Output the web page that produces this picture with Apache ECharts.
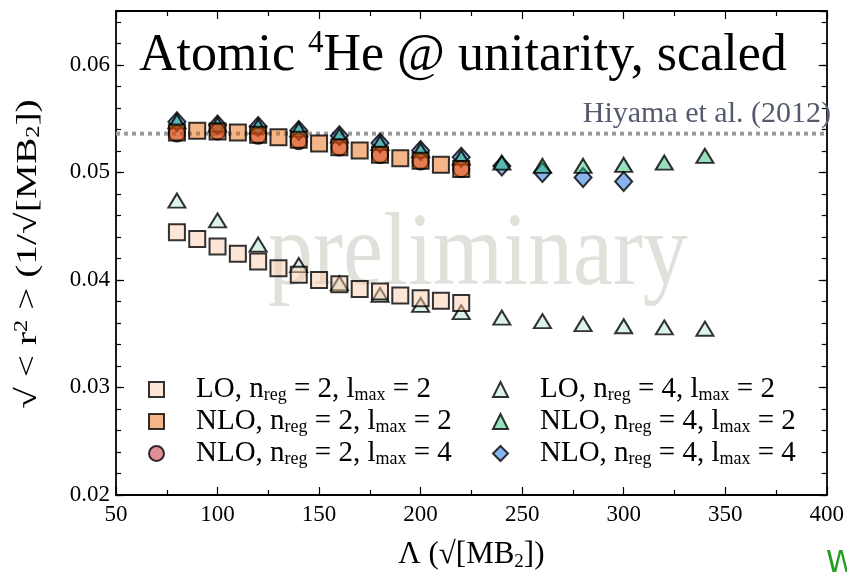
<!DOCTYPE html>
<html>
<head>
<meta charset="utf-8">
<script src="https://cdn.jsdelivr.net/npm/echarts@6/dist/echarts.min.js"></script>
<style>
  html, body { margin: 0; padding: 0; background: #fff; }
  #chart { width: 847px; height: 579px; }
</style>
</head>
<body>
<div id="chart"></div>
<script>
// Cutoff values Λ (√[MB2]) for each calculation
const lambdaNreg2 = [80, 90, 100, 110, 120, 130, 140, 150, 160, 170, 180, 190, 200, 210, 220];
const lambdaNreg2L4 = [80, 100, 120, 140, 160, 180, 200, 220];
const lambdaNreg4 = [80, 100, 120, 140, 160, 180, 200, 220, 240, 260, 280, 300, 320, 340];
const lambdaNreg4L4 = [80, 100, 120, 140, 160, 180, 200, 220, 240, 260, 280, 300];

// Root-mean-square radius √<r²> (1/√[MB2])
const rmsLO_n2_l2 = [0.04444, 0.04381, 0.04310, 0.04242, 0.04170, 0.04109, 0.04047, 0.04000,
                     0.03960, 0.03916, 0.03891, 0.03854, 0.03830, 0.03805, 0.03784];
const rmsNLO_n2_l2 = [0.05370, 0.05386, 0.05380, 0.05370, 0.05349, 0.05326, 0.05302, 0.05268,
                      0.05234, 0.05203, 0.05163, 0.05132, 0.05107, 0.05070, 0.05030];
const rmsNLO_n2_l4 = [0.05360, 0.05380, 0.05340, 0.05290, 0.05230, 0.05160, 0.05100, 0.05030];
const rmsLO_n4_l2 = [0.04737, 0.04553, 0.04328, 0.04137, 0.03969, 0.03860, 0.03767, 0.03700,
                     0.03650, 0.03616, 0.03589, 0.03569, 0.03558, 0.03546];
const rmsNLO_n4_l2 = [0.05474, 0.05444, 0.05428, 0.05397, 0.05341, 0.05273, 0.05205, 0.05137,
                      0.05091, 0.05060, 0.05060, 0.05070, 0.05091, 0.05153];
const rmsNLO_n4_l4 = [0.05470, 0.05440, 0.05426, 0.05389, 0.05340, 0.05272, 0.05203, 0.05141,
                      0.05060, 0.04998, 0.04952, 0.04915];

// Reference value (Hiyama et al. 2012)
const hiyamaValue = 0.0536;
const hiyamaLabel = 'Hiyama et al. (2012)';

// Axis ranges and tick labels
const xTicks = [50, 100, 150, 200, 250, 300, 350, 400];
const yTicks = [0.02, 0.03, 0.04, 0.05, 0.06];

// Legend entries: order, n_reg, l_max
const orders = ['LO', 'NLO', 'NLO', 'LO', 'NLO', 'NLO'];
const nregs = [2, 2, 2, 4, 4, 4];
const lmaxs = [2, 2, 4, 2, 2, 4];
const names = orders.map((o, i) => `${o}, nreg = ${nregs[i]}, lmax = ${lmaxs[i]}`);

const SERIF = '"Liberation Serif", "DejaVu Serif", serif';
const EDGE = '#000';

function pts(xs, ys) { return xs.map((x, i) => [x, ys[i]]); }

function markerSeries(idx, xs, ys, symbol, size, color, z) {
  return {
    name: names[idx], type: 'scatter', data: pts(xs, ys),
    symbol: symbol, symbolSize: size, z: z,
    itemStyle: { color: color, borderColor: EDGE, borderWidth: 2 },
    emphasis: { disabled: true }
  };
}

const seriesList = [
  {
    type: 'line', data: [[xTicks[0], hiyamaValue], [xTicks[xTicks.length - 1], hiyamaValue]],
    symbol: 'none', silent: true, z: 1,
    lineStyle: { color: '#9a9a9a', width: 4, type: [4, 4] }
  },
  markerSeries(5, lambdaNreg4L4, rmsNLO_n4_l4, 'diamond', [17, 19], 'rgba(7,100,217,0.6)', 2),
  markerSeries(4, lambdaNreg4, rmsNLO_n4_l2, 'triangle', [17, 14], 'rgba(42,187,118,0.6)', 3),
  markerSeries(3, lambdaNreg4, rmsLO_n4_l2, 'triangle', [17, 14], 'rgba(182,230,207,0.6)', 3),
  markerSeries(0, lambdaNreg2, rmsLO_n2_l2, 'rect', 16, 'rgba(252,203,170,0.6)', 4),
  markerSeries(2, lambdaNreg2L4, rmsNLO_n2_l4, 'circle', 16, 'rgba(192,18,38,0.6)', 5),
  markerSeries(1, lambdaNreg2, rmsNLO_n2_l2, 'rect', 16, 'rgba(233,103,7,0.6)', 6)
];

const legendRich = {
  g: { width: 27 },
  m: { fontFamily: SERIF, fontSize: 29, lineHeight: 30, color: '#000' },
  s: { fontFamily: SERIF, fontSize: 18, lineHeight: 16, color: '#000', verticalAlign: 'bottom' }
};
function legendFormatter(name) {
  const m = name.match(/^(\w+), nreg = (\d), lmax = (\d)$/);
  return `{g| }{m|${m[1]}, n}{s|reg}{m| = ${m[2]}, l}{s|max}{m| = ${m[3]}}`;
}
function legendBlock(left, list) {
  return {
    orient: 'vertical', left: left, top: 370, itemGap: 2.5,
    itemWidth: 15, itemHeight: 15, selectedMode: false,
    data: list, formatter: legendFormatter,
    textStyle: { rich: legendRich }
  };
}

const tickLine = { color: '#000', width: 1.2 };
const frameLine = { show: true, onZero: false, lineStyle: { color: '#000', width: 1.8 } };
const xBase = { type: 'value', min: xTicks[0], max: xTicks[xTicks.length - 1], interval: 50,
                splitLine: { show: false } };
const yBase = { type: 'value', min: yTicks[0], max: 0.065, splitLine: { show: false } };

const option = {
  animation: false,
  backgroundColor: '#fff',
  grid: { left: 116, right: 11, top: 11, bottom: 84 },
  legend: [
    legendBlock(143, names.slice(0, 3)),
    legendBlock(487, names.slice(3, 6))
  ],
  xAxis: [
    Object.assign({}, xBase, {
      position: 'bottom', axisLine: frameLine,
      axisTick: { inside: true, length: 8, lineStyle: tickLine },
      minorTick: { show: true, splitNumber: 2, length: 5, lineStyle: tickLine },
      axisLabel: { fontFamily: SERIF, fontSize: 23, color: '#000', margin: 8 },
      name: '{t|Λ (√[MB}{sub|2}{t|])}', nameLocation: 'middle', nameGap: 43,
      nameTextStyle: { rich: {
        t: { fontFamily: SERIF, fontSize: 31, color: '#000', lineHeight: 34 },
        sub: { fontFamily: SERIF, fontSize: 19, color: '#000', lineHeight: 19, verticalAlign: 'bottom' }
      } }
    }),
    Object.assign({}, xBase, {
      position: 'top', axisLine: frameLine,
      axisTick: { inside: true, length: 8, lineStyle: tickLine },
      minorTick: { show: true, splitNumber: 2, length: 5, lineStyle: tickLine },
      axisLabel: { show: false }
    })
  ],
  yAxis: [
    Object.assign({}, yBase, {
      interval: 0.01, position: 'left', axisLine: frameLine,
      axisTick: { inside: true, length: 8, lineStyle: tickLine },
      axisLabel: { fontFamily: SERIF, fontSize: 23, color: '#000', margin: 6, showMaxLabel: false,
                   formatter: v => v.toFixed(2) }
    }),
    Object.assign({}, yBase, {
      interval: 0.002, position: 'left', axisLine: { show: false },
      axisTick: { inside: true, length: 5, lineStyle: tickLine }, axisLabel: { show: false }
    }),
    Object.assign({}, yBase, {
      interval: 0.01, position: 'right', axisLine: frameLine,
      axisTick: { inside: true, length: 8, lineStyle: tickLine }, axisLabel: { show: false }
    }),
    Object.assign({}, yBase, {
      interval: 0.002, position: 'right', axisLine: { show: false },
      axisTick: { inside: true, length: 5, lineStyle: tickLine }, axisLabel: { show: false }
    })
  ],
  graphic: [
    {
      type: 'text', x: 268, y: 205, scaleY: 1.15, z: 0, silent: true,
      style: { text: 'preliminary', fontFamily: SERIF, fontSize: 90, verticalAlign: 'top',
               fill: 'rgba(200,200,192,0.55)' }
    },
    {
      type: 'text', left: 139, top: 28, z: 10, silent: true,
      style: {
        text: '{a|Atomic }{b|4}{a|He @ unitarity, scaled}',
        rich: {
          a: { fontFamily: SERIF, fontSize: 52, lineHeight: 56, fill: '#000' },
          b: { fontFamily: SERIF, fontSize: 31, lineHeight: 32, fill: '#000', verticalAlign: 'top' }
        }
      }
    },
    {
      // y-axis title, drawn rotated along the left edge
      type: 'text', x: 28, y: 254, rotation: Math.PI / 2, scaleX: 1.36, z: 10, silent: true,
      style: {
        text: '{t|√ < r}{sup|2}{t| > (1/√[MB}{sub|2}{t|])}',
        align: 'center', verticalAlign: 'middle',
        rich: {
          t: { fontFamily: SERIF, fontSize: 29, fill: '#000', lineHeight: 30 },
          sup: { fontFamily: SERIF, fontSize: 18, fill: '#000', lineHeight: 20, verticalAlign: 'top' },
          sub: { fontFamily: SERIF, fontSize: 18, fill: '#000', lineHeight: 17, verticalAlign: 'bottom' }
        }
      }
    },
    {
      type: 'text', right: 16, top: 99, z: 10, silent: true,
      style: { text: hiyamaLabel, fontFamily: SERIF, fontSize: 30, fill: '#555a6e' }
    },
    {
      type: 'text', left: 826, top: 549, z: 10, silent: true,
      style: { text: 'W', fontFamily: '"DejaVu Sans", sans-serif', fontSize: 30, fill: '#22a022' }
    }
  ],
  series: seriesList
};

const chart = echarts.init(document.getElementById('chart'), null, { renderer: 'canvas' });
chart.setOption(option);
</script>
</body>
</html>
